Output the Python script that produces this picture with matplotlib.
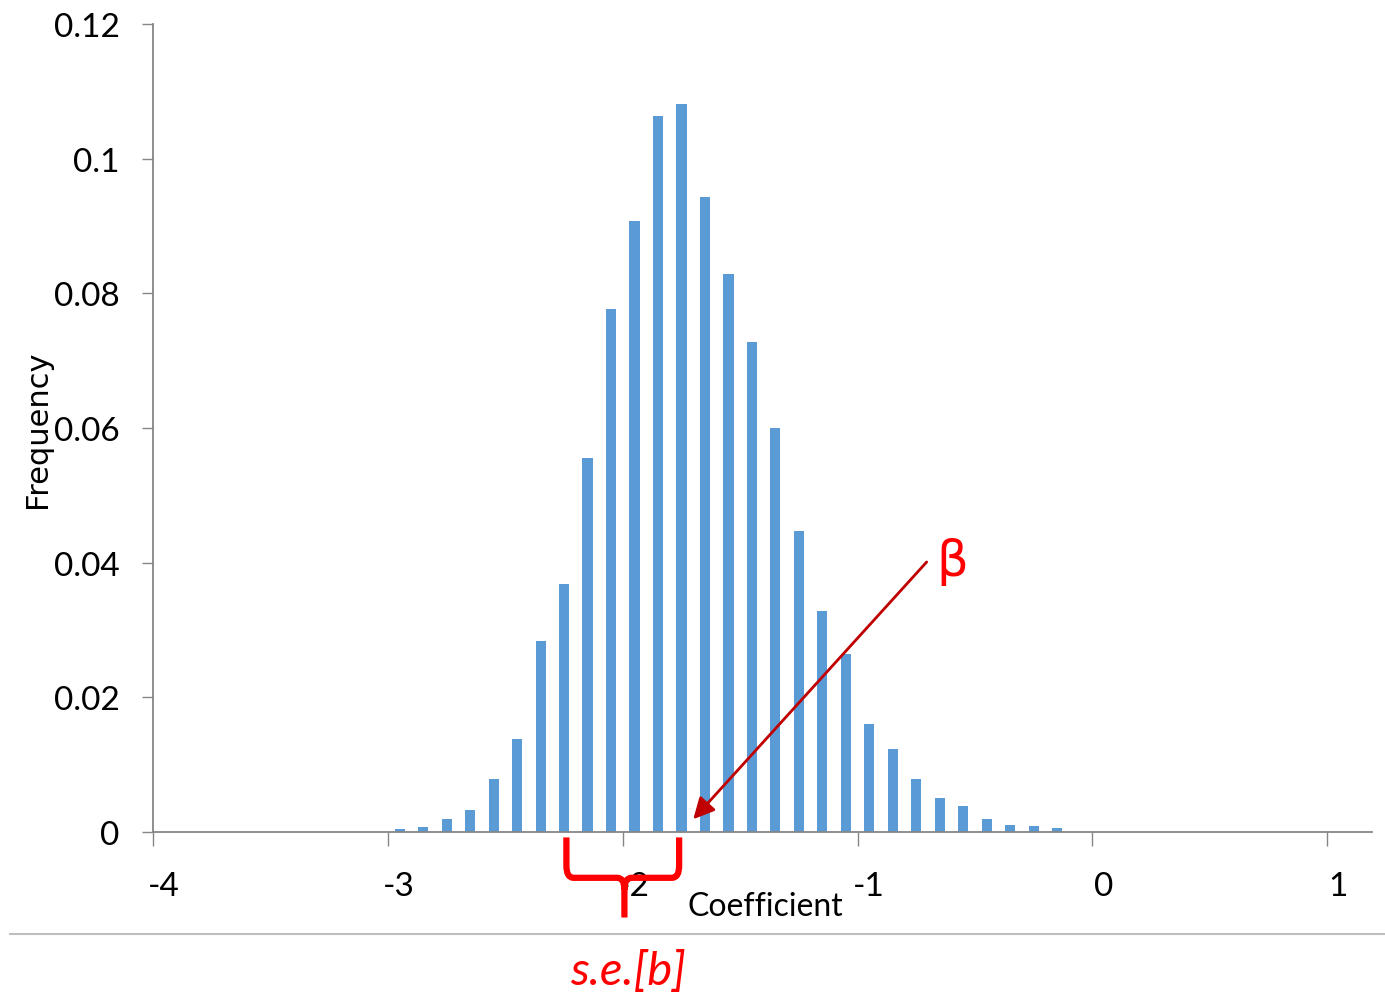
import numpy as np
import matplotlib
matplotlib.use('Agg')
import matplotlib.pyplot as plt
from matplotlib.path import Path
from matplotlib.patches import PathPatch, Rectangle
from matplotlib.lines import Line2D
from matplotlib.ticker import FuncFormatter
import matplotlib.transforms as mtransforms

# bin centres and relative frequencies
bin_centres = [-2.95, -2.85, -2.75, -2.65, -2.55, -2.45, -2.35, -2.25, -2.15, -2.05,
               -1.95, -1.85, -1.75, -1.65, -1.55, -1.45, -1.35, -1.25, -1.15, -1.05,
               -0.95, -0.85, -0.75, -0.65, -0.55, -0.45, -0.35, -0.25, -0.15]
frequency = [0.0004, 0.0008, 0.0020, 0.0033, 0.0079, 0.0138, 0.0284, 0.0368, 0.0555, 0.0777,
             0.0908, 0.1063, 0.1081, 0.0943, 0.0829, 0.0728, 0.0600, 0.0447, 0.0328, 0.0264,
             0.0161, 0.0124, 0.0079, 0.0050, 0.0038, 0.0020, 0.0011, 0.00085, 0.00055]
x_ticks = [-4, -3, -2, -1, 0, 1]
y_ticks = [0, 0.02, 0.04, 0.06, 0.08, 0.10, 0.12]

beta = -1.70        # point the arrow marks
se_centre = -2.0    # brace centre
se_half = 0.24      # brace half width

plt.rcParams['font.family'] = ['Lato', 'DejaVu Sans']
plt.rcParams['axes.unicode_minus'] = False

fig = plt.figure(figsize=(13.85, 9.95), dpi=100)
ax = fig.add_axes([0.1105, 0.1628, 0.8801, 0.8121])

ax.bar(bin_centres, frequency, width=0.043, color='#5B9BD5', zorder=2)

ax.set_xlim(-4, 1.19)
ax.set_ylim(0, 0.12)
ax.set_xticks(x_ticks)
ax.set_yticks(y_ticks)
ax.yaxis.set_major_formatter(FuncFormatter(lambda v, p: '%g' % v))

for side in ['top', 'right']:
    ax.spines[side].set_visible(False)
for side in ['left', 'bottom']:
    ax.spines[side].set_color('#868686')
    ax.spines[side].set_linewidth(1.3)

ax.tick_params(axis='x', direction='out', length=10, width=1, color='#868686',
               pad=18, labelsize=24)
ax.tick_params(axis='y', direction='out', length=8, width=1, color='#868686',
               pad=16, labelsize=24)

# excel puts the x labels a little right of the ticks
offset = mtransforms.ScaledTranslation(11 / 100, 0, fig.dpi_scale_trans)
for lab in ax.get_xticklabels():
    lab.set_transform(lab.get_transform() + offset)

ax.set_xlabel('Coefficient', fontsize=23)
ax.xaxis.set_label_coords(0.502, -0.0916)
ax.xaxis.label.set_va('center')
ax.set_ylabel('Frequency', fontsize=22, family=['DejaVu Sans'])
ax.yaxis.set_label_coords(-0.095, 0.5)
ax.yaxis.label.set_va('center')

# arrow to the estimate
ax.annotate('', xy=(beta, 0.0019), xytext=(-0.706, 0.0401),
            arrowprops=dict(arrowstyle='-|>', color='#C00000', lw=2,
                            mutation_scale=32, shrinkA=0, shrinkB=0),
            zorder=5)
ax.text(-0.596, 0.0403, 'β', color='red', fontsize=36, ha='center', va='center',
        family=['DejaVu Sans'])

# curly brace under the axis (it hides the minus of the -2 label)
ax.add_patch(Rectangle((se_centre - 0.05, -0.0095), 0.06, 0.0024, facecolor='white',
                       edgecolor='none', clip_on=False, zorder=5))
xl, xr, xc = se_centre - se_half, se_centre + se_half, se_centre + 0.007
y0, y1, y2 = -0.0008, -0.0068, -0.0127
r, dx = 0.0018, 0.03
verts = [(xl, y0), (xl, y1 + r), (xl, y1), (xl + dx, y1),
         (xc - dx, y1), (xc, y1), (xc, y1 - r), (xc, y2),
         (xr, y0), (xr, y1 + r), (xr, y1), (xr - dx, y1),
         (xc + dx, y1), (xc, y1), (xc, y1 - r)]
codes = [Path.MOVETO, Path.LINETO, Path.CURVE3, Path.CURVE3,
         Path.LINETO, Path.CURVE3, Path.CURVE3, Path.LINETO,
         Path.MOVETO, Path.LINETO, Path.CURVE3, Path.CURVE3,
         Path.LINETO, Path.CURVE3, Path.CURVE3]
brace = PathPatch(Path(verts, codes), facecolor='none', edgecolor='red', lw=4.5,
                  clip_on=False, zorder=6, capstyle='butt', joinstyle='round')
ax.add_patch(brace)

fig.add_artist(Line2D([10 / 1385, 1], [1 - 935 / 995] * 2, color='#BFBFBF', lw=1.5))
fig.text(628 / 1385, 1 - 972 / 995, 's.e.[b]', color='red', fontsize=34, style='italic',
         ha='center', va='center')

fig.savefig('out.png', dpi=100, facecolor='white')
